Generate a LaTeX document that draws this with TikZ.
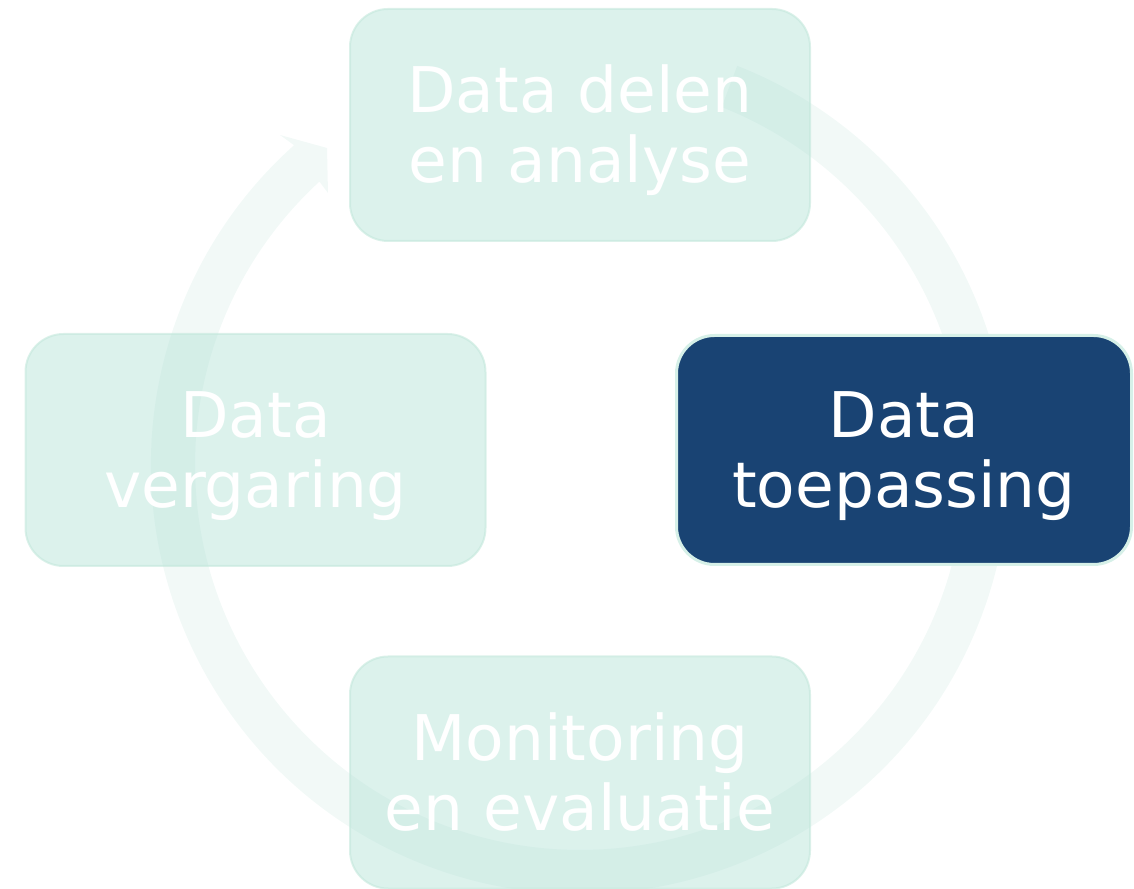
\documentclass[tikz,border=0pt]{standalone}
\usepackage{fontspec}
\setmainfont{DejaVu Sans}
\definecolor{ringc}{RGB}{242,249,247}
\definecolor{boxc}{RGB}{167,222,208}
\definecolor{boxline}{RGB}{196,232,220}
\definecolor{navy}{RGB}{25,67,115}
\definecolor{navyline}{RGB}{214,240,232}
\begin{document}
\begin{tikzpicture}[x=1pt,y=1pt,
  box/.style={rounded corners=38pt, minimum width=460pt, minimum height=232pt,
    inner sep=0pt, align=center, text=white,
    font=\fontsize{63}{70}\selectfont, text height=116pt, text depth=0pt},
  lightbox/.style={box, fill=boxc, fill opacity=0.4, text opacity=1,
    draw=boxline, draw opacity=0.6, line width=2pt},
  darkbox/.style={box, fill=navy, draw=navyline, line width=3pt,
    minimum width=455pt, minimum height=229pt}]
\useasboundingbox (0,0) rectangle (1134,888);
% circular arrow
\fill[ringc, shift={(580,423)}]
  (68.5:429) arc[start angle=68.5, end angle=-228.2, radius=429]
  -- (-300,330) -- (-253,317) -- (-252,272)
  -- (-227.4:385) arc[start angle=-227.4, end angle=68.4, radius=385] -- cycle;
% boxes
\node[lightbox] (analyse) at (580,763) {Data delen\\en analyse};
\node[lightbox] (vergaring) at (255.5,438) {Data\\vergaring};
\node[darkbox] (toepassing) at (904,438) {Data\\toepassing};
\node[lightbox] (monitoring) at (580,115.5) {Monitoring\\en evaluatie};
\end{tikzpicture}
\end{document}
